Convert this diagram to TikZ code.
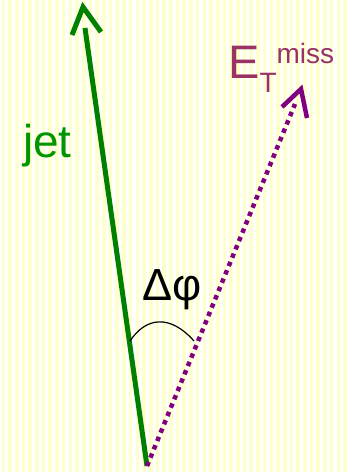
\documentclass[tikz,border=0pt]{standalone}
\usepackage{fontspec}
\setmainfont{Liberation Sans}
\definecolor{jetgreen}{RGB}{0,128,0}
\definecolor{jettext}{RGB}{0,150,0}
\definecolor{metpurple}{RGB}{128,0,128}
\definecolor{mettext}{RGB}{153,51,102}
\definecolor{stripey}{RGB}{255,255,204}
\begin{document}
\begin{tikzpicture}[x=1pt,y=-1pt,
  stripe/.style={fill=stripey},
  jetline/.style={draw=jetgreen,line width=5pt},
  metline/.style={draw=metpurple,line width=4.5pt,dash pattern=on 4.5pt off 4.5pt},
  methead/.style={draw=metpurple,line width=4.5pt},
  lbl/.style={inner sep=0pt,anchor=base west}]
\useasboundingbox (0,0) rectangle (349,472);
\fill[white] (0,0) rectangle (349,472);
\foreach \i in {0,...,52} \fill[stripe] (\i*6.7+1.5,0) rectangle ++(3.6,472);
% points
\coordinate (o) at (147,466);
\coordinate (jt) at (85,28);
\coordinate (japex) at (83,7);
\coordinate (jl) at (72,35);
\coordinate (jr) at (101,32);
\coordinate (mt) at (295,104);
\coordinate (mapex) at (301,89);
\coordinate (ml) at (282,107);
\coordinate (mr) at (307,118);
% jet
\draw[jetline] (o) -- (jt);
\draw[jetline,line join=miter] (jl) -- (japex) -- (jr);
% MET
\draw[metline] (o) -- (mt);
\draw[methead,line join=miter] (ml) -- (mapex) -- (mr);
% angle arc
\coordinate (a1) at (130,341);
\coordinate (a2) at (194,341);
\draw[black,line width=1.2pt] (a1) .. controls (146,317) and (170,314) .. (a2);
% labels
\node[lbl,text=jettext,font=\fontsize{46}{46}\selectfont] (jet) at (23,157) {jet};
\node[lbl,text=black,font=\fontsize{45}{45}\selectfont] (dphi) at (142,300) {Δφ};
\node[lbl,text=mettext,font=\fontsize{47}{47}\selectfont] (met) at (228,78)
  {E\raisebox{-14pt}{\fontsize{28}{28}\selectfont T}\raisebox{15pt}{\fontsize{28}{28}\selectfont miss}};
\end{tikzpicture}
\end{document}
